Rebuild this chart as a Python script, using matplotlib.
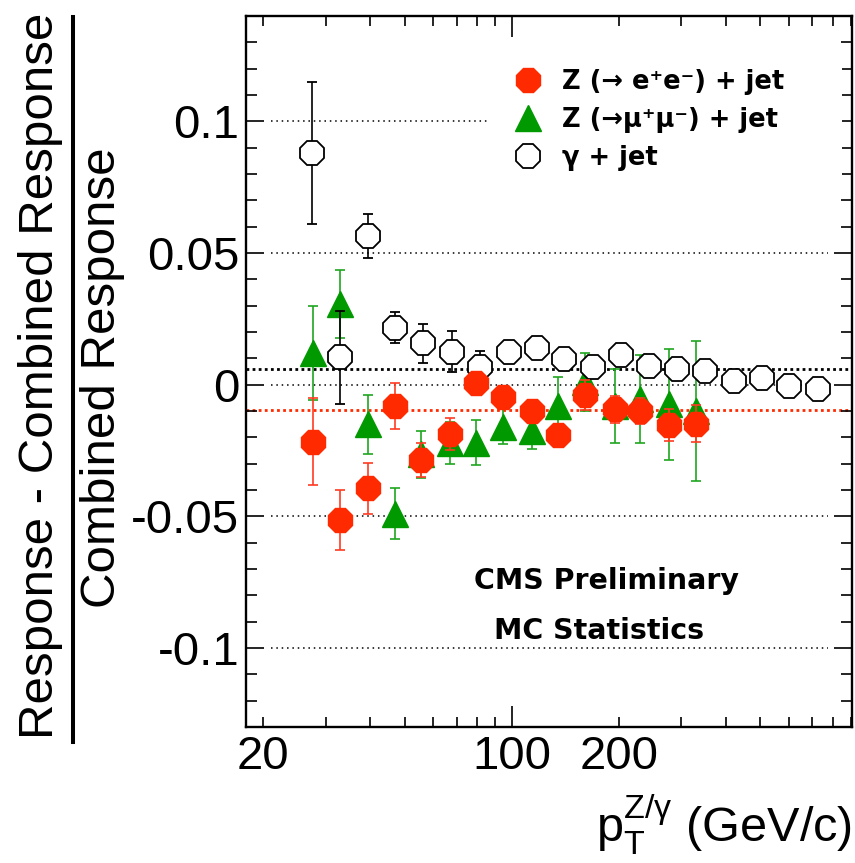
import numpy as np
import matplotlib
matplotlib.use('Agg')
import matplotlib.pyplot as plt
from matplotlib.ticker import FixedLocator, FixedFormatter, FuncFormatter, MultipleLocator
from matplotlib.lines import Line2D
from matplotlib.font_manager import FontProperties

plt.rcParams['font.family'] = 'Liberation Sans'
plt.rcParams['axes.unicode_minus'] = False
plt.rcParams['mathtext.fontset'] = 'custom'
plt.rcParams['mathtext.rm'] = 'Liberation Sans'
plt.rcParams['mathtext.it'] = 'Liberation Sans'
plt.rcParams['mathtext.bf'] = 'Liberation Sans:bold'

# Z -> ee + jet
pt_ee = [27.6, 33.0, 39.5, 47.1, 55.7, 67.2, 79.5, 94.6, 114.2, 135.1, 160.9, 194.6, 229.5, 276.9, 329.8]
dev_ee = [-0.0216, -0.0514, -0.0394, -0.0080, -0.0286, -0.0187, 0.0005, -0.0048, -0.0100, -0.0191,
          -0.0039, -0.0094, -0.0100, -0.0153, -0.0149]
err_ee = [0.0166, 0.0115, 0.0097, 0.0087, 0.0066, 0.0060, 0.0035, 0.0030, 0.0030, 0.0030,
          0.0057, 0.0050, 0.0050, 0.0060, 0.0070]

# Z -> mumu + jet
pt_mm = [27.6, 33.0, 39.5, 47.1, 55.7, 67.2, 79.5, 94.6, 114.2, 135.1, 160.9, 194.6, 229.5, 276.9, 329.8]
dev_mm = [0.0120, 0.0306, -0.0150, -0.0490, -0.0265, -0.0220, -0.0220, -0.0160, -0.0175, -0.0080,
          0.0010, -0.0080, -0.0055, -0.0075, -0.0100]
err_mm = [0.0180, 0.0130, 0.0112, 0.0096, 0.0088, 0.0080, 0.0084, 0.0066, 0.0068, 0.0110,
          0.0111, 0.0140, 0.0166, 0.0210, 0.0265]

# gamma + jet
pt_gj = [27.5, 33.0, 39.5, 47.1, 56.4, 68.1, 81.5, 98.4, 117.9, 140.4, 169.4, 203.0, 243.3,
         291.5, 349.5, 421.7, 505.3, 601.8, 725.9]
dev_gj = [0.0880, 0.0104, 0.0565, 0.0217, 0.0157, 0.0125, 0.0066, 0.0125, 0.0138, 0.0096,
          0.0066, 0.0113, 0.0071, 0.0058, 0.0053, 0.0015, 0.0024, -0.0005, -0.0017]
err_gj = [0.0270, 0.0177, 0.0084, 0.0059, 0.0074, 0.0078, 0.0060, 0.0025, 0.0020, 0.0020,
          0.0020, 0.0020, 0.0020, 0.0020, 0.0020, 0.0020, 0.0020, 0.0020, 0.0020]

labels = ['Z (\u2192 e\u207ae\u207b) + jet', 'Z (\u2192\u03bc\u207a\u03bc\u207b) + jet', '\u03b3 + jet']

grid_y = [-0.1, -0.05, 0.0, 0.05, 0.1]
grid_x = (21, 775)
mean_gj = 0.006
mean_z = -0.0096

yticks = [-0.1, -0.05, 0.0, 0.05, 0.1]
yticklabels = ['-0.1', '-0.05', '0', '0.05', '0.1']
xminor = [20, 30, 40, 50, 60, 70, 80, 90, 200, 300, 400, 500, 600, 700, 800, 900]
xlabelled = [20, 100, 200]

RED = '#ff2a00'
GREEN = '#009900'

fig = plt.figure(figsize=(8.55, 8.63), dpi=100)
ax = fig.add_axes([0.2877, 0.1576, 0.7088, 0.8239])
ax.set_xscale('log')
ax.set_xlim(17.9, 905)
ax.set_ylim(-0.13, 0.14)

# dotted reference lines
ax.hlines(grid_y, grid_x[0], grid_x[1], colors='black', linestyles=(0, (1, 2.5)), lw=1.1, zorder=1)
ax.axhline(mean_gj, color='black', ls=(0, (1, 1.2)), lw=2.0, zorder=1)
ax.axhline(mean_z, color=RED, ls=(0, (1, 1.2)), lw=2.0, zorder=1)

eb_mm = ax.errorbar(pt_mm, dev_mm, yerr=err_mm, fmt='^', ms=19, color=GREEN, mec=GREEN,
                    ecolor='#1fa61f', elinewidth=1.2, capsize=3.3, capthick=1.2, zorder=3)
eb_gj = ax.errorbar(pt_gj, dev_gj, yerr=err_gj, fmt='8', ms=18, mfc='white', mec='black', mew=1.3,
                    ecolor='black', elinewidth=1.2, capsize=3.3, capthick=1.2, zorder=4)
eb_ee = ax.errorbar(pt_ee, dev_ee, yerr=err_ee, fmt='8', ms=18.5, color=RED, mec=RED,
                    ecolor='#ff3b22', elinewidth=1.2, capsize=3.3, capthick=1.2, zorder=5)

# ticks
ax.yaxis.set_major_locator(FixedLocator(yticks))
ax.yaxis.set_major_formatter(FixedFormatter(yticklabels))
ax.yaxis.set_minor_locator(MultipleLocator(0.01))
ax.xaxis.set_major_locator(FixedLocator([100]))
ax.xaxis.set_major_formatter(FuncFormatter(lambda v, p: '%g' % v))
ax.xaxis.set_minor_locator(FixedLocator(xminor))
ax.xaxis.set_minor_formatter(FuncFormatter(lambda v, p: '%g' % v if round(v) in xlabelled else ''))
ax.tick_params(which='both', direction='in', top=True, right=True, labelsize=34, width=1.2)
ax.tick_params(axis='x', which='major', length=15, pad=6)
ax.tick_params(axis='x', which='minor', length=7.5, pad=6)
ax.tick_params(axis='y', which='major', length=13, pad=5)
ax.tick_params(axis='y', which='minor', length=8)
for s in ax.spines.values():
    s.set_linewidth(1.7)

# legend box is white and hides the dotted line behind it
leg_font = FontProperties(family='DejaVu Sans', weight='bold', size=18.5)
leg = ax.legend([eb_ee[0], eb_mm[0], eb_gj[0]], labels, loc='upper left', mode='expand',
                bbox_to_anchor=(0.5696, 0.78, 0.985 - 0.5696, 0.9322 - 0.78),
                bbox_transform=fig.transFigure,
                frameon=True, fancybox=False, framealpha=1, facecolor='white', edgecolor='none',
                prop=leg_font, borderpad=0.4, handlelength=2.4, handletextpad=0.12,
                labelspacing=0.48, borderaxespad=0, numpoints=1)
leg.set_zorder(10)

fig.text(607 / 855, 1 - 581 / 863, 'CMS Preliminary', ha='center', va='center',
         fontsize=20.5, weight='bold', family='DejaVu Sans')
fig.text(599 / 855, 1 - 631 / 863, 'MC Statistics', ha='center', va='center',
         fontsize=20.5, weight='bold', family='DejaVu Sans')

# y title as a fraction
fig.text(53 / 855, 1 - 376 / 863, 'Response - Combined Response', rotation=90,
         rotation_mode='anchor', ha='center', va='baseline', fontsize=35.5)
fig.text(115 / 855, 1 - 378 / 863, 'Combined Response', rotation=90,
         rotation_mode='anchor', ha='center', va='baseline', fontsize=35.5)
fig.add_artist(Line2D([72.5 / 855, 72.5 / 855], [1 - 17 / 863, 1 - 742 / 863],
                      color='black', lw=2.9, transform=fig.transFigure))

fig.text(0.9965, 1 - 842 / 863, r'$\mathregular{p_{T}^{Z/\gamma}}$ (GeV/c)', ha='right',
         va='baseline', fontsize=35)

fig.savefig('out.png', dpi=100)
